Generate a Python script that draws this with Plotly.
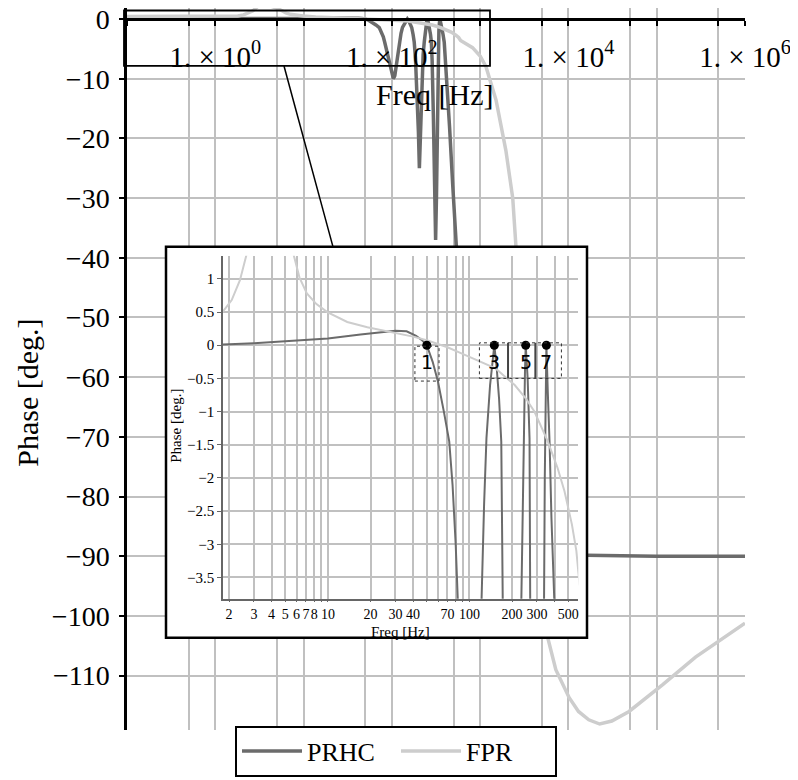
import math
import plotly.graph_objects as go

# ---------------- data ----------------
prhc_freq = [0.1, 0.5, 1, 1.8, 3, 5, 10, 17, 24, 30, 36, 42, 46, 50, 55, 60, 66, 72, 76, 80,
             83, 88, 94, 100, 104, 108, 113, 118, 122, 127, 132, 140, 146, 150, 156, 162, 168,
             174, 179, 185, 193, 200, 205, 210, 218, 226, 233, 238, 243, 247, 250, 258, 266,
             274, 280, 286, 295, 305, 313, 320, 328, 333, 337, 341, 345, 350, 358, 369, 380,
             392, 420, 450, 490, 537, 600, 750, 1000, 1500, 3000, 1e4, 1e5, 1e6]
prhc_phase = [0.0, 0.0, 0.005, 0.01, 0.03, 0.06, 0.1, 0.16, 0.2, 0.22, 0.21, 0.14, 0.08, 0.0,
              -0.25, -0.55, -1.0, -1.45, -2.1, -3.0, -3.9, -5.5, -7.5, -9.3, -10.0, -9.5, -7.5,
              -5.3, -3.8, -2.4, -1.4, -0.6, -0.2, 0.0, -0.35, -0.8, -1.45, -2.6, -3.8, -6.5, -12,
              -19, -25, -19, -11, -6, -3.8, -2.3, -1.1, -0.4, 0.0, -0.5, -1.4, -2.6, -3.8, -7,
              -16, -30, -37, -30, -15, -7, -3.8, -2.0, -0.8, 0.0, -0.7, -1.5, -2.6, -3.9, -10,
              -18, -28, -38.4, -50, -65, -77, -85, -88.8, -89.8, -90, -90]

fpr_freq = [0.1, 0.3, 1, 1.5, 1.8, 2.09, 2.39, 2.67, 3.0, 3.4, 3.9, 4.5, 5.1, 5.7, 6.3, 7.1,
            8.3, 9.9, 13.7, 19, 24, 29, 40, 50, 70, 87, 120, 153, 209, 250, 288, 358, 420,
            470, 530, 570, 600, 700, 820, 1000, 1164, 1515, 1955, 2340, 2540, 2900, 3400,
            4000, 4800, 5800, 7200, 10200, 13000, 17000, 22600, 31000, 48600, 117000, 275000, 1e6]
fpr_phase = [0.4, 0.4, 0.42, 0.46, 0.5, 0.68, 0.98, 1.38, 2.05, 2.4, 2.35, 2.1, 1.75, 1.38, 1.02,
             0.78, 0.62, 0.5, 0.35, 0.27, 0.225, 0.2, 0.13, 0.075, -0.03, -0.12, -0.25, -0.35,
             -0.6, -0.8, -1.0, -1.45, -1.85, -2.2, -2.7, -3.1, -3.6, -4.2, -4.8, -6.2, -8,
             -13.6, -22, -30, -38, -50, -66, -82, -95, -103.5, -109, -113.7, -116, -117.4,
             -118.1, -117.6, -116, -111.5, -106.9, -101.2]

harmonic_freq = [50, 150, 250, 350]
harmonic_phase = [0, 0, 0, 0]
harmonic_order = ["1", "3", "5", "7"]

main_x_tickvals = [0.1, 0.5, 1, 5, 10, 50, 100, 500, 1000, 5000, 1e4, 5e4, 1e5, 5e5, 1e6]
main_x_ticktext = ["", "", "1. × 10<sup>0</sup>", "", "", "", "1. × 10<sup>2</sup>", "", "", "",
                   "1. × 10<sup>4</sup>", "", "", "", "1. × 10<sup>6</sup>"]
main_y_tickvals = [0, -10, -20, -30, -40, -50, -60, -70, -80, -90, -100, -110]
main_y_ticktext = ["0", "−10", "−20", "−30", "−40", "−50", "−60", "−70", "−80",
                   "−90", "−100", "−110"]

inset_x_tickvals = [2, 3, 4, 5, 6, 7, 8, 9, 10, 20, 30, 40, 50, 60, 70, 80, 90, 100, 200, 300, 400, 500]
inset_x_ticktext = ["2", "3", "4", "5", "6", "7", "8", "", "10", "20", "30", "40", "", "", "70",
                    "", "", "100", "200", "300", "", "500"]
inset_y_tickvals = [1, 0.5, 0, -0.5, -1, -1.5, -2, -2.5, -3, -3.5]
inset_y_ticktext = ["1", "0.5", "0", "−0.5", "−1", "−1.5", "−2", "−2.5", "−3", "−3.5"]

# ---------------- layout helpers ----------------
# the page body adds an 8 px offset; the figure is sized so that it fills the window
OFF = 8
W, H = 798 - OFF, 780 - OFF
L_IMG, R_IMG, T_IMG, B_IMG = 127, 745, 8, 730.4   # plot area in window pixels
PX_PER_DEG = 5.973
Y0_IMG = 19                                        # window row of phase 0
YMAX = (Y0_IMG - T_IMG) / PX_PER_DEG
YMIN = -(B_IMG - Y0_IMG) / PX_PER_DEG


def px(x):
    return (x - L_IMG) / (R_IMG - L_IMG)


def py(y):
    return (B_IMG - y) / (B_IMG - T_IMG)


SERIF = "Liberation Serif"
DARK = "#6b6b6b"
LIGHT = "#cdcdcd"
GRID = "#c0c0c0"

fig = go.Figure()

# main traces
fig.add_trace(go.Scatter(x=prhc_freq, y=prhc_phase, mode="lines", name="PRHC",
                         line=dict(color=DARK, width=3.5), xaxis="x", yaxis="y"))
fig.add_trace(go.Scatter(x=fpr_freq, y=fpr_phase, mode="lines", name="FPR", cliponaxis=False,
                         line=dict(color=LIGHT, width=3.5), xaxis="x", yaxis="y"))

# frame subplot (white box hiding the main plot)
fig.add_trace(go.Scatter(x=[], y=[], xaxis="x2", yaxis="y2", showlegend=False, hoverinfo="skip"))

# inset traces
fig.add_trace(go.Scatter(x=prhc_freq, y=prhc_phase, mode="lines", showlegend=False,
                         line=dict(color=DARK, width=2), xaxis="x3", yaxis="y3"))
fig.add_trace(go.Scatter(x=fpr_freq, y=fpr_phase, mode="lines", showlegend=False,
                         line=dict(color=LIGHT, width=2), xaxis="x3", yaxis="y3"))
fig.add_trace(go.Scatter(x=harmonic_freq, y=harmonic_phase, mode="markers", showlegend=False,
                         marker=dict(color="black", size=9), cliponaxis=False,
                         xaxis="x3", yaxis="y3"))

zero_pos = (0 - YMIN) / (YMAX - YMIN)

frame = (166, 247, 587, 638)
inset_px = (223, 256, 578.3, 599)

fig.update_layout(
    width=W, height=H,
    margin=dict(l=L_IMG - OFF, r=W - (R_IMG - OFF), t=T_IMG - OFF, b=H - (B_IMG - OFF),
                autoexpand=False),
    paper_bgcolor="white", plot_bgcolor="white",
    showlegend=True,
    legend=dict(orientation="h", x=px(396), xanchor="center", y=py(777), yanchor="bottom",
                bordercolor="black", borderwidth=2, bgcolor="white",
                font=dict(family=SERIF, size=26, color="black"), itemwidth=60,
                entrywidth=84, tracegroupgap=0),
    xaxis=dict(type="log", range=[-1, 6], domain=[0, 1], anchor="free", position=zero_pos,
               side="bottom", showline=True, linecolor="black", linewidth=2.5,
               ticks="outside", ticklen=5, tickwidth=2, tickcolor="black",
               tickvals=main_x_tickvals, ticktext=main_x_ticktext, tickangle=0,
               tickfont=dict(family=SERIF, size=29, color="black"), ticklabelstandoff=6,
               ticklabeloverflow="allow",
               showgrid=True, gridcolor=GRID, gridwidth=2, zeroline=False, automargin=False),
    yaxis=dict(range=[YMIN, YMAX], domain=[0, 1], anchor="x", showline=True,
               linecolor="black", linewidth=2.5, ticks="outside", ticklen=5, tickwidth=2,
               tickcolor="black", tickvals=main_y_tickvals, ticktext=main_y_ticktext,
               tickfont=dict(family=SERIF, size=28, color="black"), ticklabelstandoff=4,
               ticklabeloverflow="allow",
               showgrid=True, gridcolor=GRID, gridwidth=2, zeroline=False, automargin=False),
    xaxis2=dict(domain=[px(frame[0]), px(frame[2])], anchor="y2", range=[0, 1],
                showgrid=False, showticklabels=False, zeroline=False, showline=False,
                ticks="", automargin=False),
    yaxis2=dict(domain=[py(frame[3]), py(frame[1])], anchor="x2", range=[0, 1],
                showgrid=False, showticklabels=False, zeroline=False, showline=False,
                ticks="", automargin=False),
    xaxis3=dict(type="log", range=[0.2586, 2.7696],
                domain=[px(inset_px[0]), px(inset_px[2])], anchor="y3",
                showline=True, linecolor="#666666", linewidth=1.5,
                ticks="outside", ticklen=2, tickwidth=1, tickcolor="#666666",
                tickvals=inset_x_tickvals, ticktext=inset_x_ticktext, tickangle=0,
                tickfont=dict(family=SERIF, size=14, color="black"),
                showgrid=True, gridcolor=GRID, gridwidth=1.5, zeroline=False, automargin=False),
    yaxis3=dict(range=[-3.82, 1.347], domain=[py(inset_px[3]), py(inset_px[1])],
                anchor="x3", showline=True, linecolor="#666666", linewidth=1.5,
                ticks="outside", ticklen=4, tickwidth=1, tickcolor="#666666",
                tickvals=inset_y_tickvals, ticktext=inset_y_ticktext,
                tickfont=dict(family=SERIF, size=15, color="black"),
                showgrid=True, gridcolor=GRID, gridwidth=1.5, zeroline=False, automargin=False),
)

shapes = [
    # zoom rectangle on the main plot
    dict(type="rect", xref="paper", yref="paper", x0=px(124), x1=px(490), y0=py(66), y1=py(10.5),
         line=dict(color="black", width=1.8), fillcolor="rgba(0,0,0,0)", layer="above"),
    # connector line
    dict(type="line", xref="paper", yref="paper", x0=px(284), y0=py(66), x1=px(333), y1=py(frame[1]),
         line=dict(color="black", width=1.5), layer="above"),
    # inset frame
    dict(type="rect", xref="paper", yref="paper", x0=px(frame[0]), x1=px(frame[2]),
         y0=py(frame[3]), y1=py(frame[1]),
         line=dict(color="black", width=2.5), fillcolor="rgba(0,0,0,0)", layer="above"),
    # label boxes in the inset
    dict(type="rect", xref="x3", yref="y3", x0=41.2, x1=61, y0=-0.54, y1=-0.015,
         line=dict(color="#333333", width=1, dash="dot"), layer="above"),
    dict(type="rect", xref="x3", yref="y3", x0=117.7, x1=447, y0=-0.5, y1=0.036,
         line=dict(color="#333333", width=1, dash="dot"), layer="above"),
    dict(type="line", xref="x3", yref="y3", x0=187.5, x1=187.5, y0=-0.5, y1=0.036,
         line=dict(color="#444444", width=2), layer="above"),
    dict(type="line", xref="x3", yref="y3", x0=292.5, x1=292.5, y0=-0.5, y1=0.036,
         line=dict(color="#444444", width=2), layer="above"),
]
fig.update_layout(shapes=shapes)

annotations = [
    dict(text="Freq [Hz]", xref="paper", yref="paper", x=px(434), y=py(95), showarrow=False,
         font=dict(family=SERIF, size=30, color="black"), xanchor="center", yanchor="middle"),
    dict(text="Phase [deg.]", xref="paper", yref="paper", x=px(28), y=py(393), showarrow=False,
         textangle=-90, font=dict(family=SERIF, size=30, color="black"),
         xanchor="center", yanchor="middle"),
    dict(text="Phase [deg.]", xref="paper", yref="paper", x=px(176), y=py(426), showarrow=False,
         textangle=-90, font=dict(family=SERIF, size=15, color="black"),
         xanchor="center", yanchor="middle"),
    dict(text="Freq [Hz]", xref="paper", yref="paper", x=px(400), y=py(632), showarrow=False,
         font=dict(family=SERIF, size=15, color="black"), xanchor="center", yanchor="middle"),
]
for f, lab in zip(harmonic_freq, harmonic_order):
    annotations.append(dict(text=lab, xref="x3", yref="y3", x=math.log10(f), y=-0.26,
                            showarrow=False, xanchor="center", yanchor="middle",
                            font=dict(family="DejaVu Sans", size=19, color="black")))
fig.update_layout(annotations=annotations)

fig.write_html("out.html")
